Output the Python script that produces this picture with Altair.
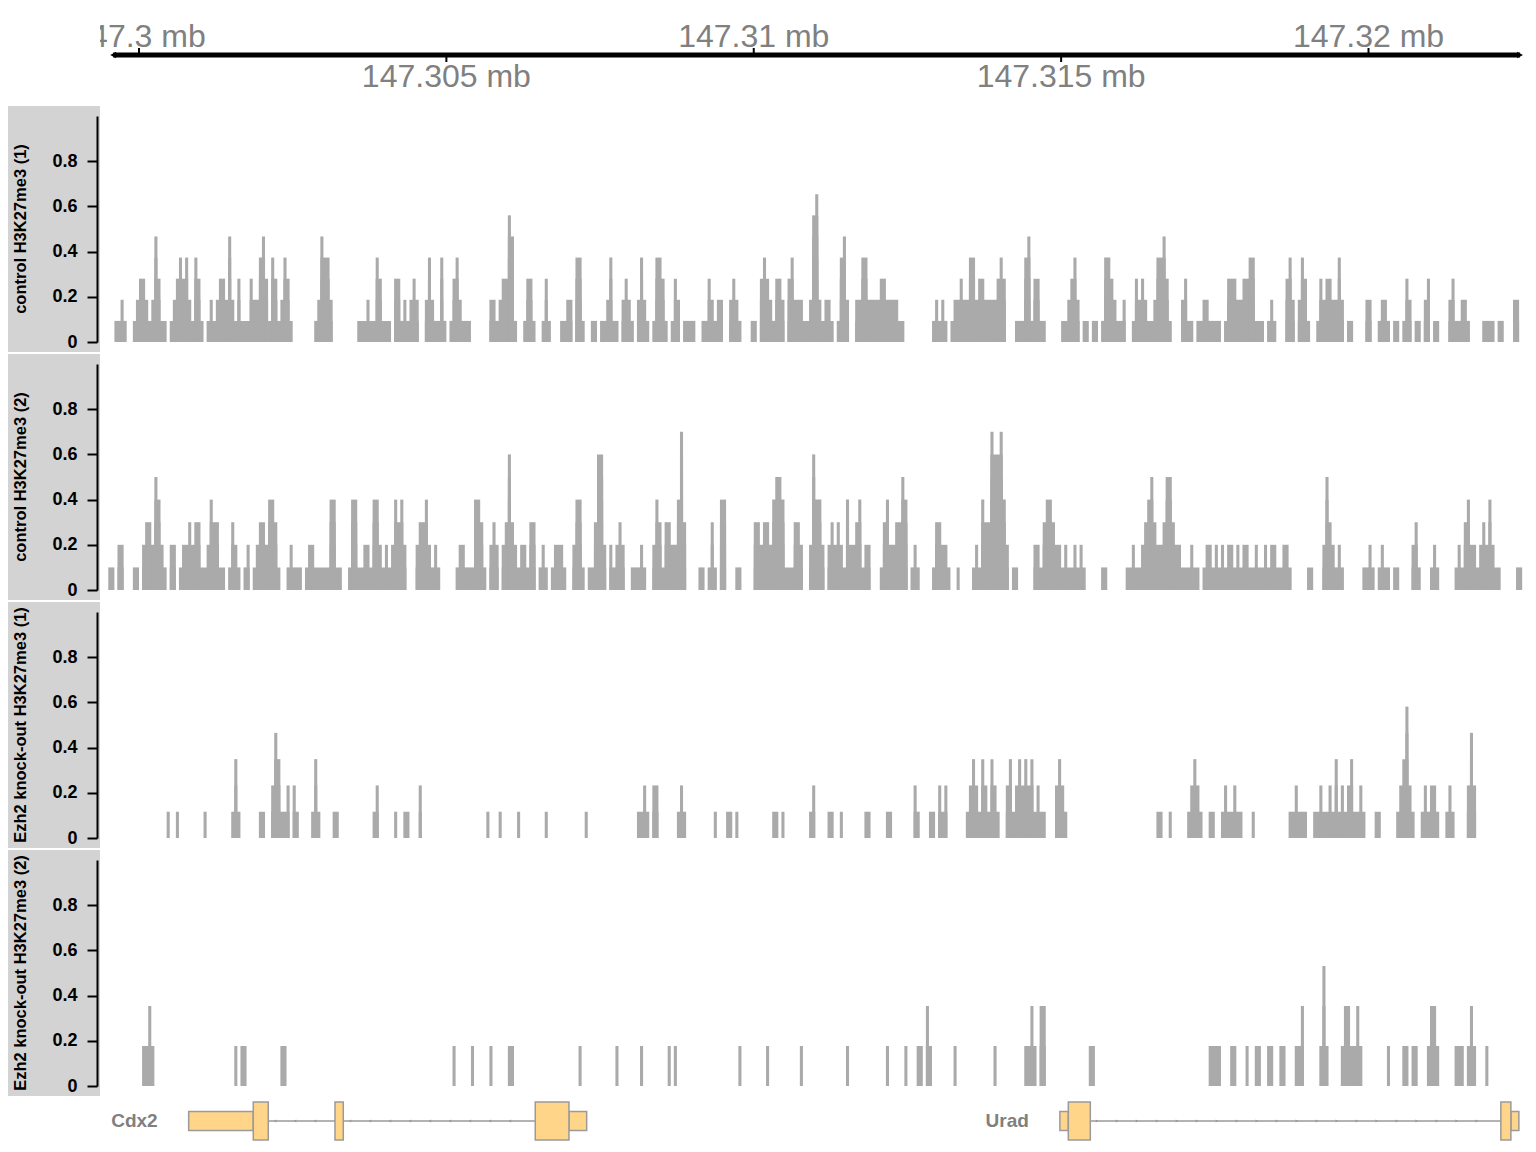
import altair as alt
import pandas as pd

# ---------------- data ----------------
START = 147299550          # genomic position of bin 0
BIN = 50                   # bin width (bp)
X_DOMAIN = [147299500, 147322500]
X_RANGE = [100.26, 1514.19]

TRACK_TITLES = ["control H3K27me3 (1)", "control H3K27me3 (2)",
                "Ezh2 knock-out H3K27me3 (1)", "Ezh2 knock-out H3K27me3 (2)"]
TRACK_STEPS = [0.0934, 0.1, 0.1163, 0.177]   # value of one coverage unit per track
Y_TICKS = [0, 0.2, 0.4, 0.6, 0.8]

# coverage runs: (first bin, coverage level per consecutive bin)
T1_RUNS = [
    (1, "1121"), (7, "12332125311"), (19, "12343421431"),
    (31, "121233252131113224531431"), (55, "2431"), (66, "125442"),
    (80, "1112114311103312123200242114101342111"),
    (123, "2212336510" "0133100131" "00011220441"),
    (156, "11"), (159, "112411"), (166, "2321"), (171, "2421"), (176, "14431"),
    (182, "132"), (186, "1111"), (192, "1132122"), (201, "2321"), (208, "11"),
    (211, "34321332"), (220, "342221126721221"), (236, "1452"),
    (242, "2244222233222211"), (267, "12121"), (273, "122322442332222343"),
    (294, "1114513311"), (309, "112342"), (316, "11"), (319, "11"),
    (322, "14432112"), (332, "1323211244531"), (348, "2311"), (353, "1122"),
    (357, "1111"), (362, "13332233441"), (373, "110121"), (382, "342"),
    (386, "2431"), (392, "132332242"), (402, "11"), (408, "22"),
    (412, "1221011"), (420, "132"), (424, "11"), (427, "23"), (430, "11"),
    (435, "2311221"), (446, "1111"), (451, "11"), (456, "22"),
]
T2_RUNS = [
    (-1, "11"), (2, "22"), (7, "11"), (10, "23325421"), (19, "22"),
    (22, "122323311243311"), (38, "1321"), (43, "12"), (46, "123324431"),
    (57, "12111"), (63, "1221"), (67, "11114411"), (77, "14411221442121"),
    (91, "24342"), (99, "23342121"), (112, "12211"), (117, "14431"),
    (123, "232"), (127, "23632122133"), (139, "121"), (143, "12221"),
    (150, "2441"), (155, "113662"), (162, "21232"), (169, "11121"),
    (176, "24313322473"), (191, "11"), (194, "131"), (198, "44"), (203, "11"),
    (209, "332332455411"), (221, "1332"), (227, "26442"),
    (233, "23232142234122"), (250, "134223354"), (260, "121"), (267, "133221"),
    (275, "1"), (280, "121433766742"), (293, "11"), (300, "22134432212112121"),
    (322, "11"), (330, "1121123453223553221"),
    (349, "11211" "01221" "21212" "21212" "21121" "12122" "11221"),
    (389, "11"), (394, "2532121"), (407, "112101211011"), (423, "231"),
    (429, "121"), (437, "121342212324211"), (457, "11"),
]
T3_RUNS = [
    (18, "1"), (21, "1"), (30, "1"), (39, "131"), (48, "11"), (52, "2431"),
    (56, "12"), (59, "21"), (65, "131"), (72, "11"), (85, "12"), (92, "1"),
    (95, "11"), (100, "2"), (122, "1"), (126, "1"), (132, "1"), (141, "1"),
    (154, "1"), (171, "1121"), (176, "22"), (184, "121"), (196, "1"),
    (200, "1101"), (215, "1101"), (227, "12"), (233, "11"), (237, "1"),
    (245, "11"), (252, "11"), (261, "21"), (266, "11"), (269, "212"),
    (278, "12321321321"), (291, "2312323231211"), (307, "2321"), (340, "11"),
    (344, "1"), (350, "12321"), (357, "11"), (361, "1211211"), (371, "1"),
    (383, "112111"), (391, "11211213121231121"), (411, "11"), (418, "123521"),
    (426, "121221"), (434, "121"), (441, "242"),
]
T4_RUNS = [
    (10, "1121"), (40, "1"), (42, "11"), (55, "11"), (111, "1"), (117, "1"),
    (123, "1"), (129, "11"), (152, "1"), (164, "1"), (172, "1"), (181, "101"),
    (204, "1"), (213, "1"), (224, "1"), (239, "1"), (252, "1"), (258, "1"),
    (262, "11021"), (274, "1"), (287, "1"), (297, "1121022"), (318, "11"),
    (357, "1111"), (364, "11"), (369, "1"), (372, "11"), (376, "11"),
    (380, "11"), (385, "112"), (393, "131"), (400, "1221121"), (415, "1"),
    (420, "11"), (423, "11"), (428, "1221"), (437, "1110121"), (447, "1"),
]
TRACK_RUNS = [T1_RUNS, T2_RUNS, T3_RUNS, T4_RUNS]

AXIS_TICKS = [147300000, 147305000, 147310000, 147315000, 147320000]
AXIS_LABELS = ["147.3 mb", "147.305 mb", "147.31 mb", "147.315 mb", "147.32 mb"]
AXIS_SIDE = ["above", "below", "above", "below", "above"]
AXIS_LINE = [147299580, 147322465]

GENE_NAMES = ["Cdx2", "Urad"]
GENE_STRAND = ["-", "+"]
GENE_STARTS = [147300808, 147314980]
GENE_ENDS = [147307282, 147322446]
EXON_GENE = ["Cdx2", "Cdx2", "Cdx2", "Cdx2", "Cdx2", "Urad", "Urad", "Urad", "Urad"]
EXON_STARTS = [147300808, 147301859, 147303188, 147306446, 147306994,
               147314980, 147315117, 147322153, 147322316]
EXON_ENDS = [147301859, 147302103, 147303323, 147306994, 147307282,
             147315117, 147315475, 147322316, 147322446]
EXON_KIND = ["utr", "cds", "cds", "cds", "utr", "utr", "cds", "cds", "utr"]
STRAND_MARK_SPACING = 325   # bp between intron direction glyphs

# ---------------- helpers ----------------
FONT = "Liberation Sans"
HIST_COLOR = "#AAAAAA"
GENE_LINE = "#9A9A9A"
xscale = alt.Scale(domain=X_DOMAIN, range=X_RANGE, nice=False, zero=False)


def coverage_rects(runs, step):
    lev = {}
    for s, st in runs:
        for j, ch in enumerate(st):
            v = int(ch)
            if v:
                lev[s + j] = max(lev.get(s + j, 0), v)
    rows = []
    for k in range(1, max(lev.values()) + 1):
        bins = sorted(b for b, v in lev.items() if v >= k)
        i = 0
        while i < len(bins):
            j = i
            while j + 1 < len(bins) and bins[j + 1] == bins[j] + 1:
                j += 1
            rows.append({"start": START + BIN * bins[i],
                         "end": START + BIN * (bins[j] + 1),
                         "value": round(k * step, 4), "zero": 0.0})
            i = j + 1
    return pd.DataFrame(rows)


def strand_marks():
    rows = []
    for g, strand in zip(GENE_NAMES, GENE_STRAND):
        ex = sorted((s, e) for gg, s, e in zip(EXON_GENE, EXON_STARTS, EXON_ENDS) if gg == g)
        for (s0, e0), (s1, e1) in zip(ex[:-1], ex[1:]):
            if s1 - e0 < 200:
                continue
            p = e0 + 110
            while p < s1 - 110:
                rows.append({"pos": p, "shape": "triangle-left" if strand == "-" else "triangle-right"})
                p += STRAND_MARK_SPACING
    return pd.DataFrame(rows)


one = pd.DataFrame({"a": [0]})
layers = []

# title panels
for i, title in enumerate(TRACK_TITLES):
    off = 248 * i
    layers.append(alt.Chart(one).mark_rect(color="#D3D3D3").encode(
        x=alt.value(0), x2=alt.value(92), y=alt.value(98 + off), y2=alt.value(344 + off)))
    layers.append(alt.Chart(pd.DataFrame({"t": [title]})).mark_text(
        angle=270, font=FONT, fontSize=16.5, fontWeight="bold", color="black",
        align="center", baseline="middle").encode(
        text="t:N", x=alt.value(13), y=alt.value(221 + off)))

# data tracks
for i, runs in enumerate(TRACK_RUNS):
    off = 248 * i
    df = coverage_rects(runs, TRACK_STEPS[i])
    layers.append(alt.Chart(df).mark_rect(color=HIST_COLOR).encode(
        x=alt.X("start:Q", scale=xscale, axis=None),
        x2="end:Q",
        y=alt.Y("value:Q",
                scale=alt.Scale(domain=[0, 1], range=[334 + off, 108 + off], nice=False, zero=False),
                axis=alt.Axis(orient="left", offset=-89, values=Y_TICKS, title=None, grid=False,
                              zindex=2,
                              labelExpr="datum.value == 0 ? '0' : format(datum.value, '.1f')",
                              labelFont=FONT, labelFontSize=18, labelFontWeight="bold",
                              labelColor="black", labelPadding=10, tickSize=10, tickWidth=2,
                              tickColor="black", domainColor="black", domainWidth=2,
                              labelOverlap=False, labelFlush=False, labelBound=False)),
        y2="zero:Q"))

# genome axis
axis_df = pd.DataFrame({"pos": AXIS_TICKS, "label": AXIS_LABELS, "side": AXIS_SIDE})
line_df = pd.DataFrame({"pos": [AXIS_LINE[0]], "pos2": [AXIS_LINE[1]]})
layers.append(alt.Chart(line_df).mark_rule(color="black", strokeWidth=5).encode(
    x=alt.X("pos:Q", scale=xscale, axis=None), x2="pos2:Q", y=alt.value(47)))
ends_df = pd.DataFrame({"pos": AXIS_LINE, "shape": ["triangle-left", "triangle-right"]})
layers.append(alt.Chart(ends_df).mark_point(filled=True, color="black", size=45, opacity=1).encode(
    x=alt.X("pos:Q", scale=xscale, axis=None),
    shape=alt.Shape("shape:N", scale=None, legend=None), y=alt.value(47)))
above = axis_df[axis_df.side == "above"]
below = axis_df[axis_df.side == "below"]
layers.append(alt.Chart(above).mark_rule(color="black", strokeWidth=2).encode(
    x=alt.X("pos:Q", scale=xscale, axis=None), y=alt.value(40), y2=alt.value(47)))
layers.append(alt.Chart(below).mark_rule(color="black", strokeWidth=2).encode(
    x=alt.X("pos:Q", scale=xscale, axis=None), y=alt.value(47), y2=alt.value(54)))
layers.append(alt.Chart(above).mark_text(font=FONT, fontSize=32, color="#808080",
                                          align="center", baseline="alphabetic").encode(
    x=alt.X("pos:Q", scale=xscale, axis=None), y=alt.value(39), text="label:N"))
layers.append(alt.Chart(below).mark_text(font=FONT, fontSize=32, color="#808080",
                                          align="center", baseline="alphabetic").encode(
    x=alt.X("pos:Q", scale=xscale, axis=None), y=alt.value(79), text="label:N"))
# clip the axis labels at the left title column
layers.append(alt.Chart(one).mark_rect(color="white").encode(
    x=alt.value(0), x2=alt.value(92), y=alt.value(0), y2=alt.value(95)))

# gene track
genes_df = pd.DataFrame({"gene": GENE_NAMES, "start": GENE_STARTS, "end": GENE_ENDS})
exons_df = pd.DataFrame({"gene": EXON_GENE, "start": EXON_STARTS, "end": EXON_ENDS, "kind": EXON_KIND})
layers.append(alt.Chart(genes_df).mark_rule(color=GENE_LINE, strokeWidth=1.5).encode(
    x=alt.X("start:Q", scale=xscale, axis=None), x2="end:Q", y=alt.value(1113)))
layers.append(alt.Chart(strand_marks()).mark_point(filled=True, color=GENE_LINE, size=9, opacity=1).encode(
    x=alt.X("pos:Q", scale=xscale, axis=None),
    shape=alt.Shape("shape:N", scale=None, legend=None), y=alt.value(1113)))
layers.append(alt.Chart(exons_df[exons_df.kind == "utr"]).mark_rect(
    color="#FFD58A", stroke=GENE_LINE, strokeWidth=1.5).encode(
    x=alt.X("start:Q", scale=xscale, axis=None), x2="end:Q",
    y=alt.value(1103.5), y2=alt.value(1122.5)))
layers.append(alt.Chart(exons_df[exons_df.kind == "cds"]).mark_rect(
    color="#FFD58A", stroke=GENE_LINE, strokeWidth=1.5).encode(
    x=alt.X("start:Q", scale=xscale, axis=None), x2="end:Q",
    y=alt.value(1094), y2=alt.value(1132)))
layers.append(alt.Chart(genes_df).mark_text(font=FONT, fontSize=19, fontWeight="bold",
                                            color="#808080", align="right", baseline="middle",
                                            dx=-31).encode(
    x=alt.X("start:Q", scale=xscale, axis=None), y=alt.value(1113), text="gene:N"))

chart = alt.layer(*layers).resolve_scale(y="independent").resolve_axis(y="independent").properties(
    width=1520, height=1136, autosize=alt.AutoSizeParams(type="none"), padding=0,
    background="white").configure_view(stroke=None)

chart.save("out.html", embed_options={"renderer": "svg", "actions": False})
